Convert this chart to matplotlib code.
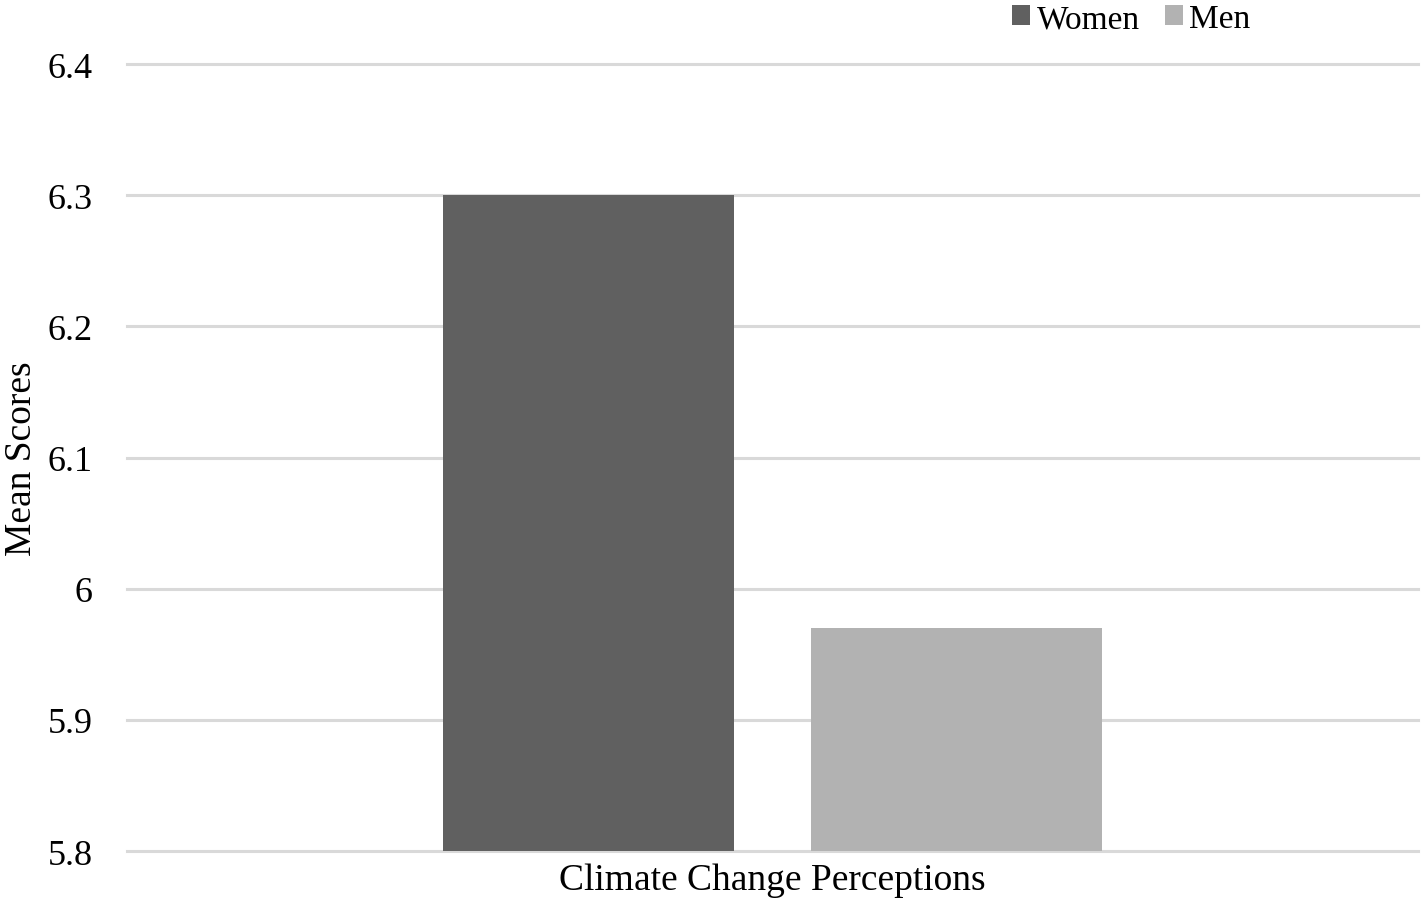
import matplotlib.pyplot as plt
import numpy as np

plt.rcParams['font.family'] = ['Liberation Serif', 'DejaVu Serif']

category = ['Climate Change Perceptions']
groups = ['Women', 'Men']
means = [6.30, 5.97]
colors = ['#606060', '#b2b2b2']

fig = plt.figure(figsize=(14.21, 9.04), dpi=100)
ax = fig.add_axes([0.0894, 0.0575, 0.9086, 0.8705])

width = 0.225
offsets = [-0.1424, 0.1424]
x = np.arange(len(category))
for g, m, c, off in zip(groups, means, colors, offsets):
    ax.bar(x + off, m - 5.8, width, bottom=5.8, color=c, label=g, zorder=3)

ax.set_xlim(-0.5, 0.5)
ax.set_ylim(5.8, 6.4)
ax.set_yticks([5.8, 5.9, 6.0, 6.1, 6.2, 6.3, 6.4])
ax.set_yticklabels(['5.8', '5.9', '6', '6.1', '6.2', '6.3', '6.4'], fontsize=26)
ax.set_xticks(x)
ax.set_xticklabels(category, fontsize=27)
ax.tick_params(axis='x', length=0, pad=8)
ax.tick_params(axis='y', length=0, pad=25)
ax.grid(axis='y', color='#d9d9d9', linewidth=2.2, zorder=0)
for gl in ax.get_ygridlines():
    gl.set_clip_on(False)
ax.set_axisbelow(True)
for s in ax.spines.values():
    s.set_visible(False)
ax.set_ylabel('Mean Scores', fontsize=27)
ax.yaxis.set_label_coords(-0.068, 0.5)

fig.legend(loc='upper left', bbox_to_anchor=(0.691, 1.028), ncol=2, frameon=False,
           fontsize=24, handlelength=0.54, handleheight=0.54, handletextpad=0.2,
           columnspacing=0.75)

fig.savefig('out.png', dpi=100)
